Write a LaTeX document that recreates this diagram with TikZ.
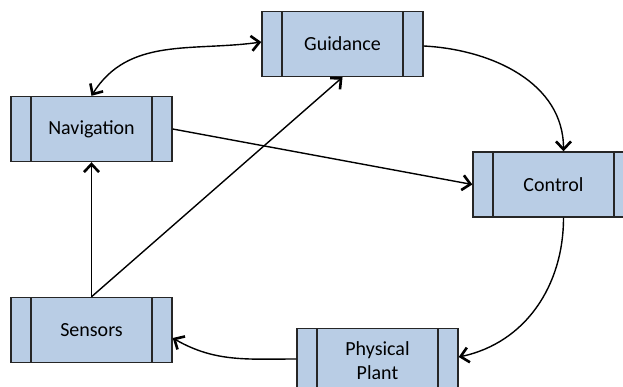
\documentclass[tikz,border=0pt]{standalone}
\usepackage{fontspec}
\setmainfont{Carlito}
\usetikzlibrary{arrows.meta,shapes}
\definecolor{blockblue}{HTML}{B9CDE5}
\tikzstyle{block}=[rectangle,draw=black!85,line width=1.4pt,fill=blockblue,
    minimum width=161pt,minimum height=65pt,inner sep=0pt,align=center,
    font=\fontsize{20}{24}\selectfont,
    path picture={
      \draw[black!85,line width=1.4pt] ([xshift=20pt]path picture bounding box.north west) -- ([xshift=20pt]path picture bounding box.south west);
      \draw[black!85,line width=1.4pt] ([xshift=-20pt]path picture bounding box.north east) -- ([xshift=-20pt]path picture bounding box.south east);}]
\tikzstyle{edge}=[draw,line width=1.4pt,->]

\begin{document}
\begin{tikzpicture}[x=1pt,y=-1pt,>={Straight Barb[length=8pt,width=15pt,line width=2.6pt]}]
    \useasboundingbox (0,0) rectangle (623,387);
    % the five blocks
    \foreach \pos/\name/\txt in {{(342.5,44)/guidance/Guidance}, {(91.5,129)/navigation/Navigation},
                                 {(553.5,184.5)/control/Control}, {(91.5,330)/sensors/Sensors},
                                 {(377.5,361)/plant/{Physical\\Plant}}}
        \node[block] (\name) at \pos {\txt};
    % straight links
    \foreach \source/\dest in {navigation.east/control.west, sensors.north/navigation.south,
                               sensors.north/guidance.south}
        \path[edge] (\source) -- (\dest);
    % curved links
    \path[edge,<->] (navigation.north) to[out=58,in=188] ([yshift=2pt]guidance.west);
    \path[edge] ([yshift=-2pt]guidance.east) to[out=-3,in=90] ([xshift=10pt]control.north);
    \path[edge] ([xshift=10pt]control.south) to[out=-90,in=12] ([yshift=4pt]plant.east);
    \path[edge] ([yshift=2pt]plant.west) to[out=180,in=-30] ([yshift=-8pt]sensors.east);
\end{tikzpicture}
\end{document}
